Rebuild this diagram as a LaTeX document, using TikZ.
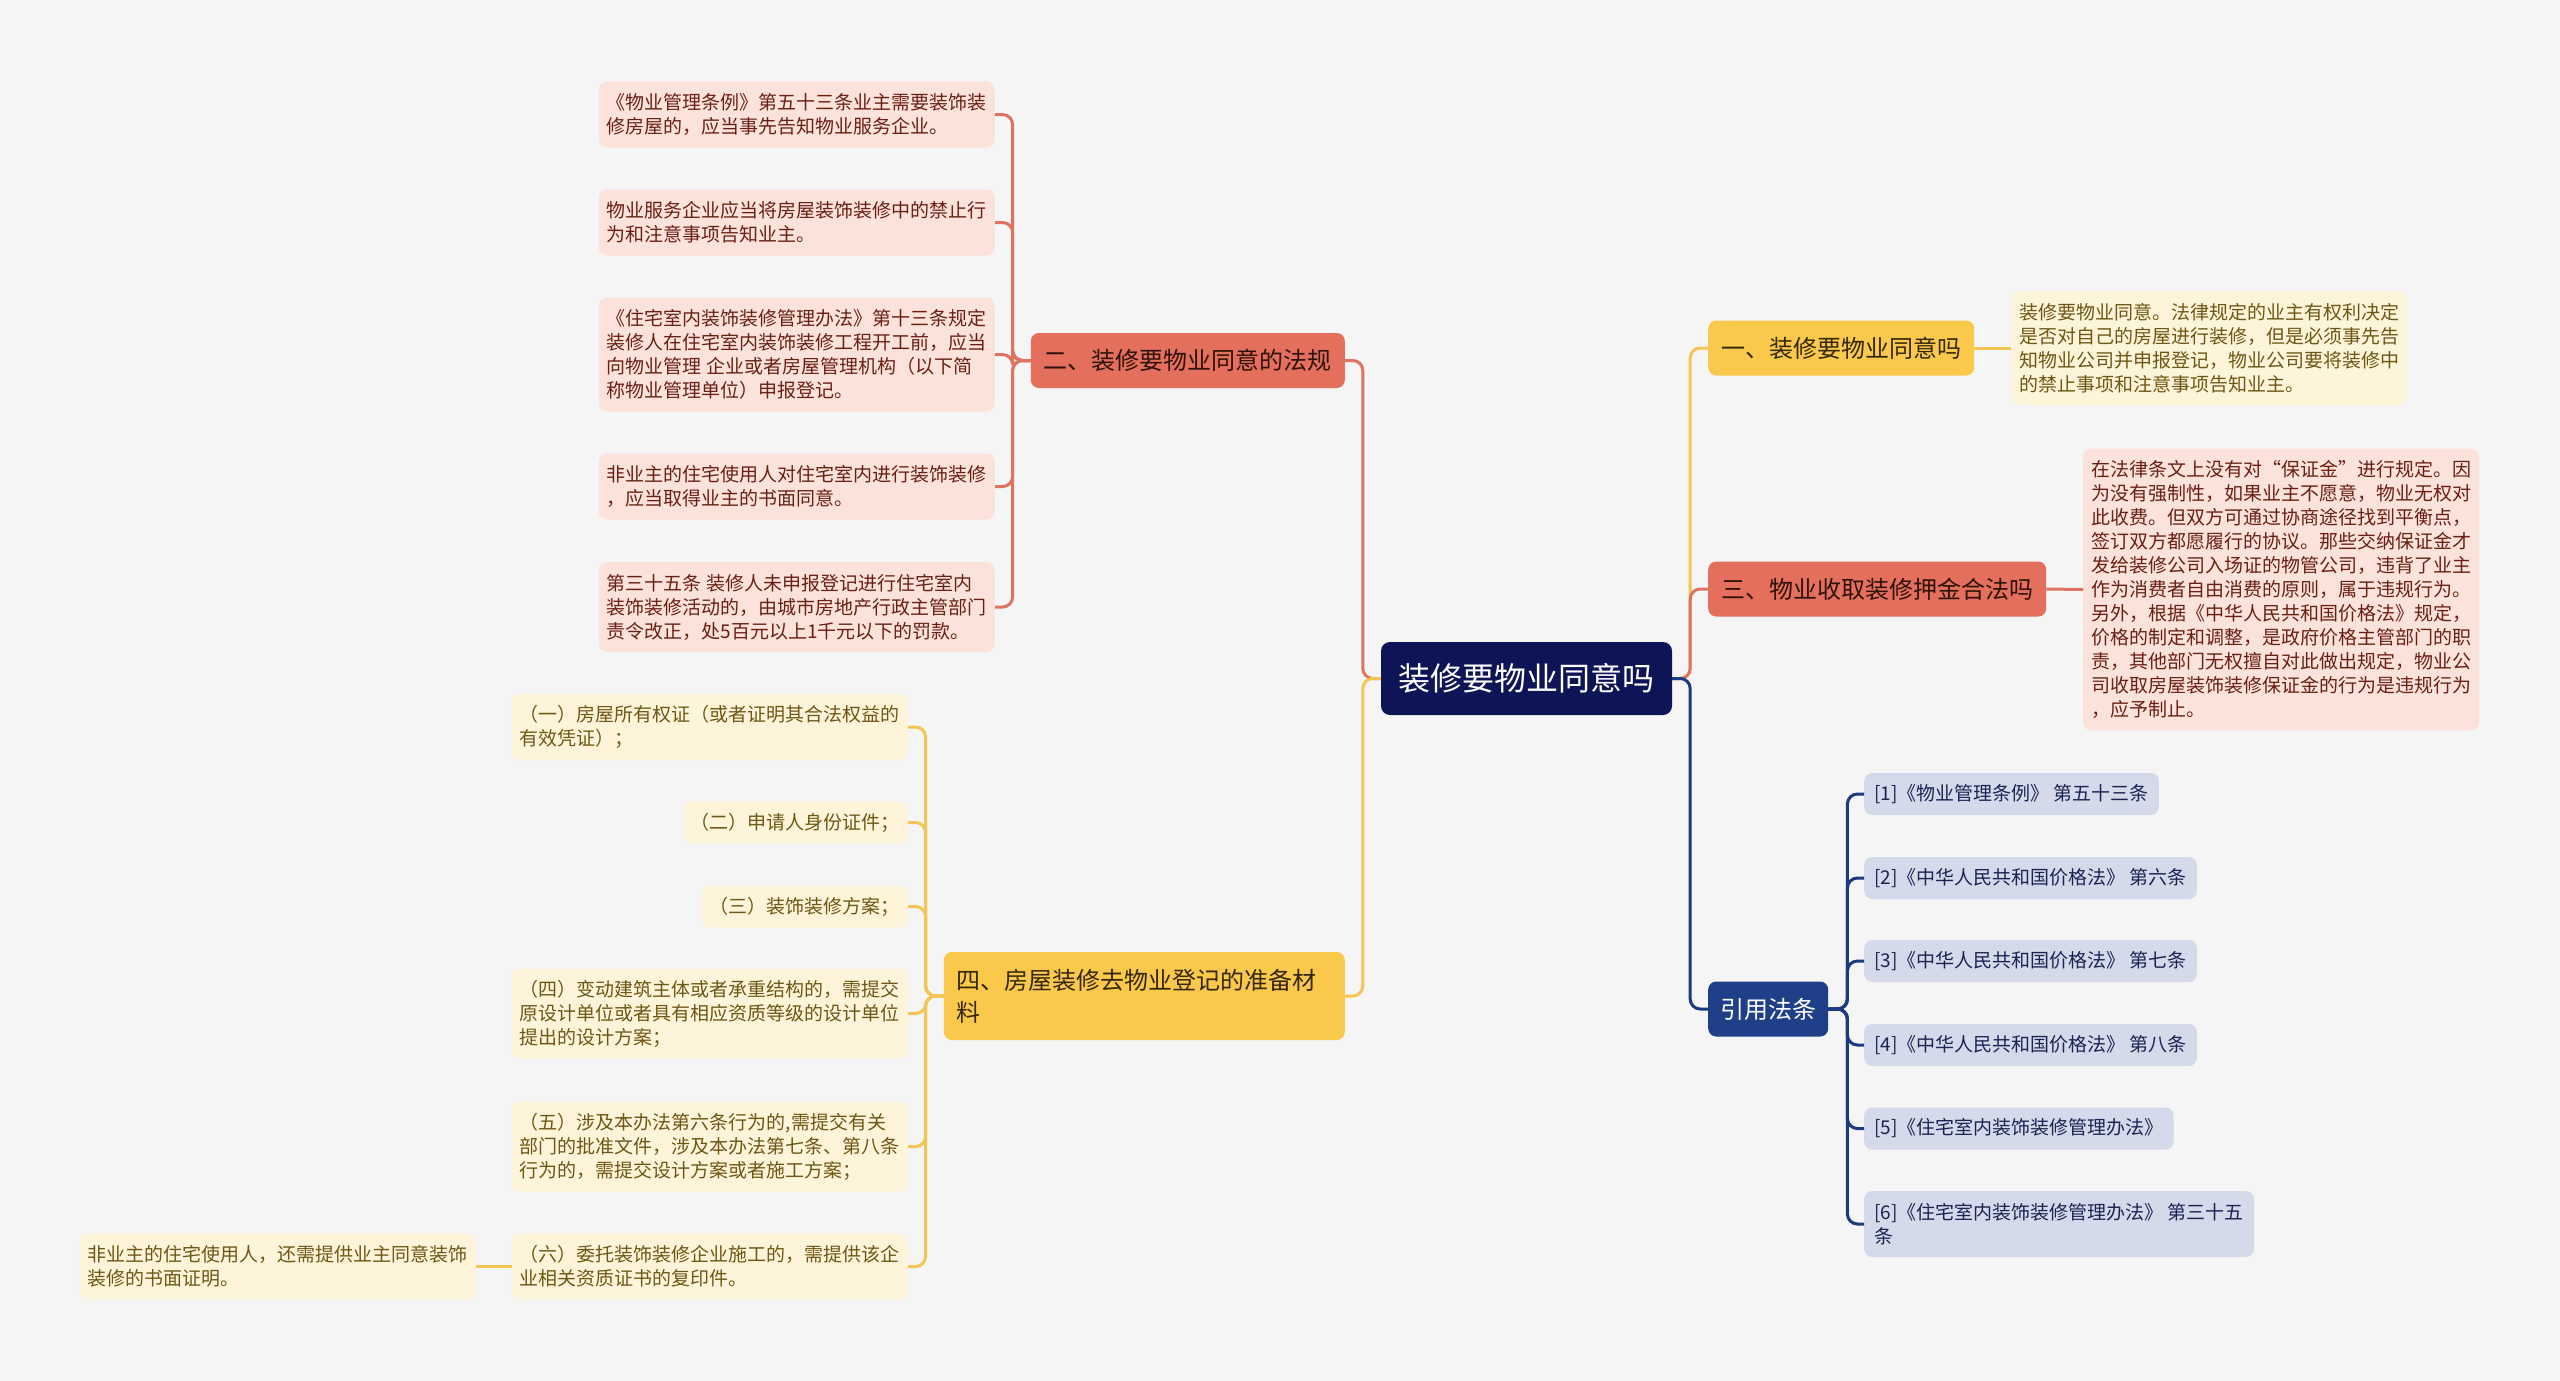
\documentclass[tikz,border=0pt]{standalone}
\usepackage{fontspec}
\usepackage{xcolor}
\usepackage{tikz}
\usetikzlibrary{positioning}
\newfontfamily\cjk{Noto Sans CJK SC}
\definecolor{bggrey}{HTML}{F5F5F5}
\definecolor{navy}{HTML}{0E1556}
\definecolor{salmon}{HTML}{E36F5C}
\definecolor{gold}{HTML}{FAC84B}
\definecolor{royal}{HTML}{1F3F88}
\definecolor{darkred}{HTML}{2E1209}
\definecolor{darkgold}{HTML}{33280A}
\definecolor{pinkfill}{HTML}{FBE3DC}
\definecolor{pinktext}{HTML}{6B1F12}
\definecolor{creamfill}{HTML}{FEF4D9}
\definecolor{creamtext}{HTML}{6E5614}
\definecolor{greyblue}{HTML}{D4DAE9}
\definecolor{reftext}{HTML}{1A2352}
\definecolor{redline}{HTML}{DE735F}
\definecolor{goldline}{HTML}{F4C552}
\definecolor{navyline}{HTML}{1C3A80}

\begin{document}
\begin{tikzpicture}[x=1pt, y=-1pt,
  root/.style={rectangle, rounded corners=9pt, fill=navy, text=white, minimum width=291pt,
               minimum height=73pt, font=\cjk\fontsize{32}{38}\selectfont},
  br/.style={rectangle, rounded corners=8pt, inner xsep=13pt, inner ysep=0pt, minimum height=55pt,
             font=\cjk\fontsize{24}{32}\selectfont},
  brr/.style={br, fill=salmon, text=darkred},
  bry/.style={br, fill=gold, text=darkgold},
  brb/.style={br, fill=royal, text=white, inner xsep=12pt},
  lf/.style={rectangle, rounded corners=8pt, inner xsep=8pt, inner ysep=0pt, align=left,
             minimum height={#1*24pt+18pt}, font=\cjk\fontsize{19}{24}\selectfont},
  lfr/.style={lf=#1, fill=pinkfill, text=pinktext},
  lfy/.style={lf=#1, fill=creamfill, text=creamtext},
  lfb/.style={lf=#1, fill=greyblue, text=reftext, inner xsep=10pt},
  cr/.style={draw=redline, line width=3pt, rounded corners=10pt},
  cy/.style={draw=goldline, line width=3pt, rounded corners=10pt},
  cb/.style={draw=navyline, line width=3pt, rounded corners=10pt}
]
  \fill[bggrey] (0,0) rectangle (2560,1381);

  % centre and main branches
  \node[root] (c) at (1526.5,678.5) {装修要物业同意吗};
  \node[brr, anchor=east] (n2) at (1345,360.5) {二、装修要物业同意的法规};
  \node[bry, anchor=east, text width=375pt, align=left, minimum height=88pt] (n4) at (1345,996)
       {四、房屋装修去物业登记的准备材\\料};
  \node[bry, anchor=west] (n1) at (1708,348) {一、装修要物业同意吗};
  \node[brr, anchor=west] (n3) at (1708,589) {三、物业收取装修押金合法吗};
  \node[brb, anchor=west] (nr) at (1708,1009) {引用法条};

  % left, red leaves
  \node[lfr=2, anchor=east] (l1) at (995,114.5)
       {《物业管理条例》第五十三条业主需要装饰装\\修房屋的，应当事先告知物业服务企业。};
  \node[lfr=2, anchor=east] (l2) at (995,222.5)
       {物业服务企业应当将房屋装饰装修中的禁止行\\为和注意事项告知业主。};
  \node[lfr=4, anchor=east] (l3) at (995,354.5)
       {《住宅室内装饰装修管理办法》第十三条规定\\装修人在住宅室内装饰装修工程开工前，应当\\向物业管理 企业或者房屋管理机构（以下简\\称物业管理单位）申报登记。};
  \node[lfr=2, anchor=east] (l4) at (995,486.5)
       {非业主的住宅使用人对住宅室内进行装饰装修\\，应当取得业主的书面同意。};
  \node[lfr=3, anchor=east] (l5) at (995,607)
       {第三十五条 装修人未申报登记进行住宅室内\\装饰装修活动的，由城市房地产行政主管部门\\责令改正，处5百元以上1千元以下的罚款。};

  % left, yellow leaves
  \node[lfy=2, anchor=east] (y1) at (908,727)
       {（一）房屋所有权证（或者证明其合法权益的\\有效凭证）；};
  \node[lfy=1, anchor=east] (y2) at (908,822.5) {（二）申请人身份证件；};
  \node[lfy=1, anchor=east] (y3) at (908,906.5) {（三）装饰装修方案；};
  \node[lfy=3, anchor=east] (y4) at (908,1013.5)
       {（四）变动建筑主体或者承重结构的，需提交\\原设计单位或者具有相应资质等级的设计单位\\提出的设计方案；};
  \node[lfy=3, anchor=east] (y5) at (908,1146.5)
       {（五）涉及本办法第六条行为的,需提交有关\\部门的批准文件，涉及本办法第七条、第八条\\行为的，需提交设计方案或者施工方案；};
  \node[lfy=2, anchor=east] (y6) at (908,1266.5)
       {（六）委托装饰装修企业施工的，需提供该企\\业相关资质证书的复印件。};
  \node[lfy=2, anchor=east] (y7) at (476,1266.5)
       {非业主的住宅使用人，还需提供业主同意装饰\\装修的书面证明。};

  % right leaves
  \node[lfy=4, anchor=west] (t1) at (2011,348)
       {装修要物业同意。法律规定的业主有权利决定\\是否对自己的房屋进行装修，但是必须事先告\\知物业公司并申报登记，物业公司要将装修中\\的禁止事项和注意事项告知业主。};
  \node[lfr=11, anchor=west] (t3) at (2083,589.5)
       {在法律条文上没有对“保证金”进行规定。因\\为没有强制性，如果业主不愿意，物业无权对\\此收费。但双方可通过协商途径找到平衡点，\\签订双方都愿履行的协议。那些交纳保证金才\\发给装修公司入场证的物管公司，违背了业主\\作为消费者自由消费的原则，属于违规行为。\\另外，根据《中华人民共和国价格法》规定，\\价格的制定和调整，是政府价格主管部门的职\\责，其他部门无权擅自对此做出规定，物业公\\司收取房屋装饰装修保证金的行为是违规行为\\，应予制止。};

  % cited laws
  \node[lfb=1, anchor=west] (r1) at (1864,794) {[1]《物业管理条例》 第五十三条};
  \node[lfb=1, anchor=west] (r2) at (1864,878) {[2]《中华人民共和国价格法》 第六条};
  \node[lfb=1, anchor=west] (r3) at (1864,961) {[3]《中华人民共和国价格法》 第七条};
  \node[lfb=1, anchor=west] (r4) at (1864,1045) {[4]《中华人民共和国价格法》 第八条};
  \node[lfb=1, anchor=west] (r5) at (1864,1128.5) {[5]《住宅室内装饰装修管理办法》};
  \node[lfb=2, anchor=west] (r6) at (1864,1224) {[6]《住宅室内装饰装修管理办法》 第三十五\\条};

  % connectors
  \draw[cr] (c.west) -- ++(-18,0) |- (n2.east);
  \draw[cy] (c.west) -- ++(-18,0) |- (n4.east);
  \draw[cy] (c.east) -- ++(18,0) |- (n1.west);
  \draw[cr] (c.east) -- ++(18,0) |- (n3.west);
  \draw[cb] (c.east) -- ++(18,0) |- (nr.west);

  \draw[cr] (n2.west) -- ++(-18,0) |- (l1.east);
  \draw[cr] (n2.west) -- ++(-18,0) |- (l2.east);
  \draw[cr] (n2.west) -- ++(-18,0) |- (l3.east);
  \draw[cr] (n2.west) -- ++(-18,0) |- (l4.east);
  \draw[cr] (n2.west) -- ++(-18,0) |- (l5.east);

  \draw[cy] (n4.west) -- ++(-18,0) |- (y1.east);
  \draw[cy] (n4.west) -- ++(-18,0) |- (y2.east);
  \draw[cy] (n4.west) -- ++(-18,0) |- (y3.east);
  \draw[cy] (n4.west) -- ++(-18,0) |- (y4.east);
  \draw[cy] (n4.west) -- ++(-18,0) |- (y5.east);
  \draw[cy] (n4.west) -- ++(-18,0) |- (y6.east);
  \draw[cy] (y6.west) -- (y7.east);

  \draw[cy] (n1.east) -- (t1.west);
  \draw[cr] (n3.east) -- (t3.west);

  \draw[cb] (nr.east) -- ++(19,0) |- (r1.west);
  \draw[cb] (nr.east) -- ++(19,0) |- (r2.west);
  \draw[cb] (nr.east) -- ++(19,0) |- (r3.west);
  \draw[cb] (nr.east) -- ++(19,0) |- (r4.west);
  \draw[cb] (nr.east) -- ++(19,0) |- (r5.west);
  \draw[cb] (nr.east) -- ++(19,0) |- (r6.west);
\end{tikzpicture}
\end{document}
